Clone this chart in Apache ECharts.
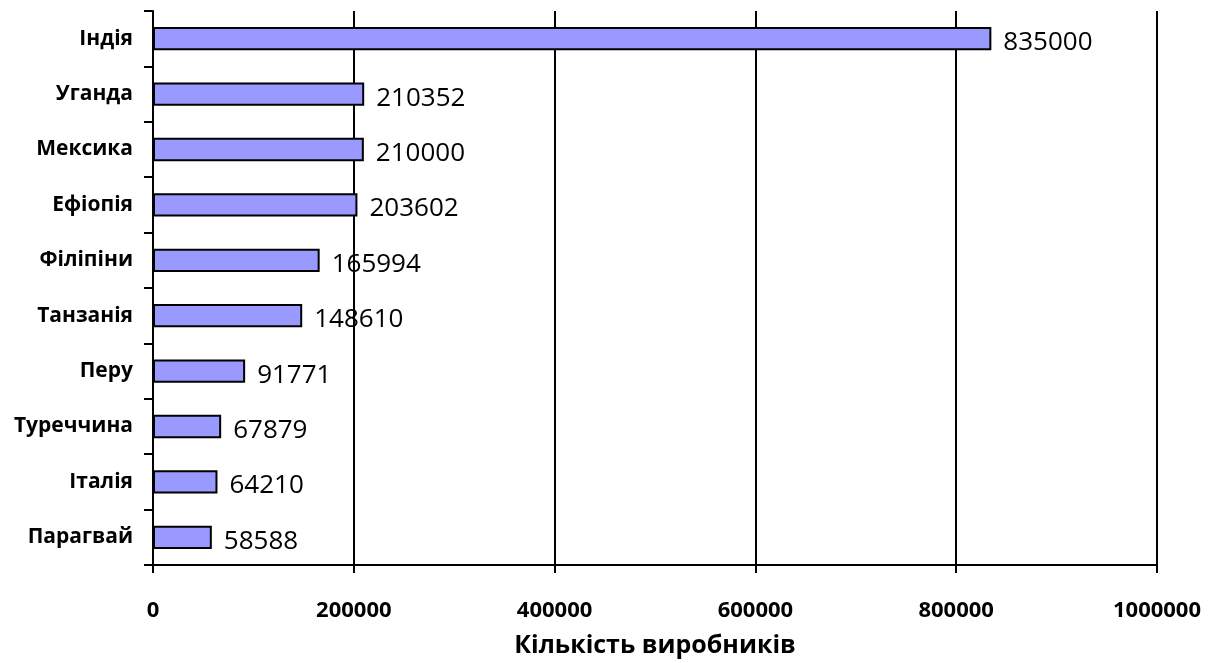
<!DOCTYPE html>
<html><head><meta charset="utf-8">
<script src="https://cdn.jsdelivr.net/npm/echarts@6/dist/echarts.min.js"></script>
<style>html,body{margin:0;padding:0;background:#fff}#c{width:1215px;height:663px}</style>
</head><body><div id="c"></div>
<script>
const categories = ['Індія','Уганда','Мексика','Ефіопія','Філіпіни','Танзанія','Перу','Туреччина','Італія','Парагвай'];
const producers = [835000,210352,210000,203602,165994,148610,91771,67879,64210,58588];
const xTicks = [0,200000,400000,600000,800000,1000000];

const chart = echarts.init(document.getElementById('c'), null, {renderer:'canvas'});
chart.setOption({
  animation:false,
  backgroundColor:'#fff',
  grid:{left:153,right:58,top:11,bottom:92,containLabel:false},
  xAxis:{
    type:'value', min:xTicks[0], max:xTicks[xTicks.length-1], interval:xTicks[1]-xTicks[0],
    name:'Кількість виробників', nameLocation:'middle', nameGap:68,
    nameTextStyle:{fontFamily:'Open Sans',fontWeight:'bold',fontSize:25,color:'#000'},
    axisLine:{show:true,lineStyle:{color:'#000',width:2}},
    axisTick:{show:true,length:8,lineStyle:{color:'#000',width:2}},
    axisLabel:{margin:35,fontFamily:'Open Sans',fontWeight:'bold',fontSize:22,color:'#000',
      formatter:function(v){return String(v);}},
    splitLine:{show:true,lineStyle:{color:'#000',width:2}}
  },
  yAxis:{
    type:'category', data:categories, inverse:true,
    axisLine:{show:true,lineStyle:{color:'#000',width:2}},
    axisTick:{show:true,length:9,lineStyle:{color:'#000',width:2}},
    axisLabel:{margin:20,fontFamily:'Open Sans',fontWeight:'bold',fontSize:21,color:'#000'}
  },
  series:[{
    type:'bar', data:producers, barWidth:'42%',
    itemStyle:{color:'#9999FF',borderColor:'#000',borderWidth:2},
    label:{show:true,position:'right',distance:12,offset:[0,4],fontFamily:'Open Sans',fontSize:26,color:'#000'}
  }]
});
</script></body></html>
